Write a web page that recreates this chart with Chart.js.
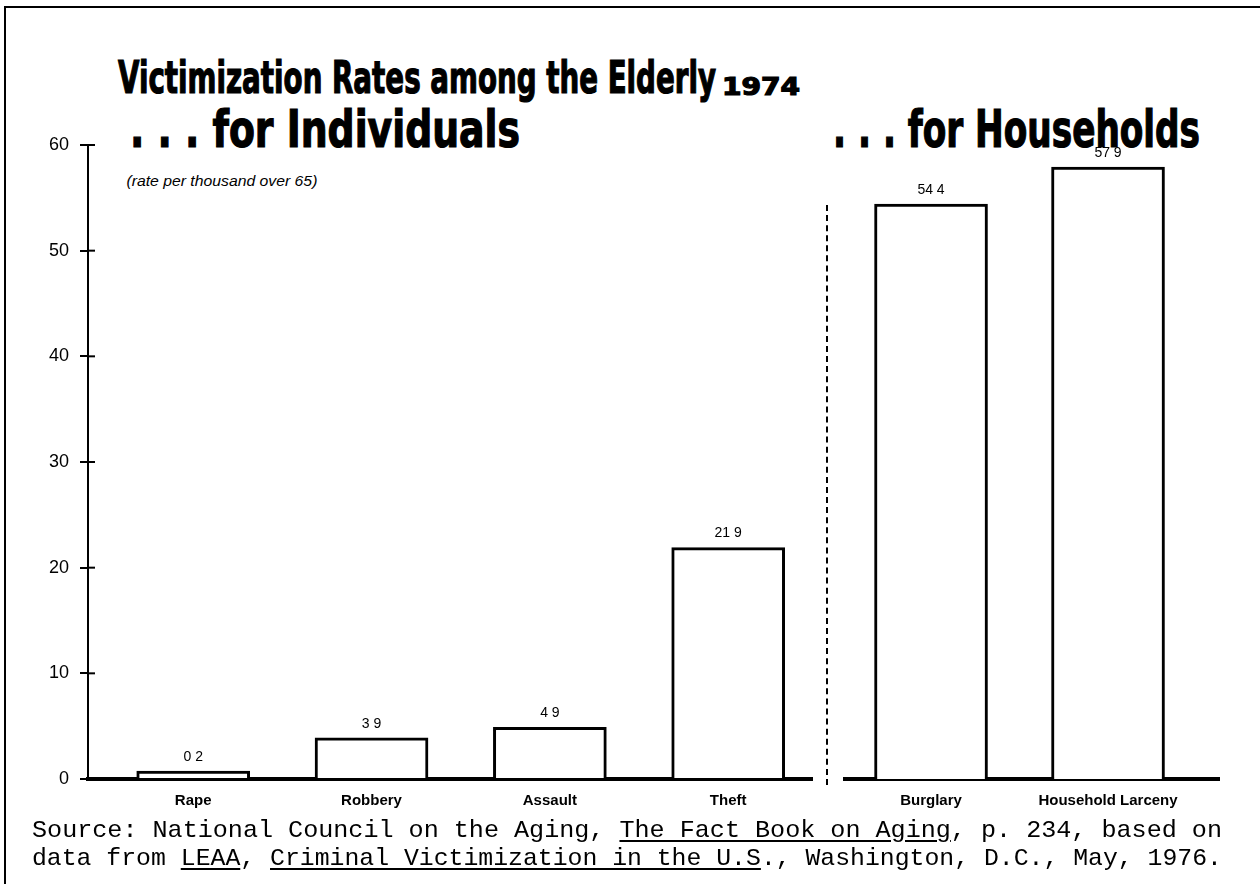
<!DOCTYPE html>
<html>
<head>
<meta charset="utf-8">
<script src="https://cdn.jsdelivr.net/npm/chart.js@4.4.1/dist/chart.umd.min.js"></script>
<style>
  body { margin: 0; background: #fff; width: 1260px; height: 884px; position: relative; overflow: hidden; font-family: "Liberation Sans", Arial, sans-serif; }
  .abs { position: absolute; white-space: nowrap; color: #000; line-height: 1; }
  .frame { position: absolute; left: 4px; top: 6px; width: 1300px; height: 900px; border-left: 2px solid #000; border-top: 2px solid #000; }
  .head { font-family: "Liberation Sans Narrow", "DejaVu Sans Condensed", sans-serif; font-weight: bold; transform-origin: 0 0; -webkit-text-stroke: 1.2px #000; }
  .src { font-family: "Liberation Mono", "DejaVu Sans Mono", monospace; font-size: 24.8px; transform-origin: 0 0; }
  .src u { text-underline-offset: 3px; }
  #divider { position: absolute; left: 826px; top: 205px; height: 580px; border-left: 2px dashed #000; }
  canvas { position: absolute; top: 0; }
</style>
</head>
<body>
<div class="frame"></div>

<div class="abs head" style="left:118px; top:56px; font-size:44px;" data-w="598">Victimization Rates among the Elderly</div>
<div class="abs head" style="left:722px; top:74px; font-size:25px;" data-w="78">1974</div>
<div class="abs head" style="left:130px; top:104px; font-size:51px;" data-w="390">. . . for Individuals</div>
<div class="abs head" style="left:833px; top:104px; font-size:51px;" data-w="367">. . . for Households</div>
<div class="abs" style="left:131px; top:173px; font-size:15px; font-style:italic;" data-w="191">(rate per thousand over 65)</div>

<div id="divider"></div>

<canvas id="individuals" width="820" height="884" style="left:0px;"></canvas>
<canvas id="households" width="440" height="884" style="left:820px;"></canvas>

<div class="abs src" style="left:32px; top:818px;" data-w="1190">Source:  National Council on the Aging, <u>The Fact Book on Aging</u>, p. 234, based on</div>
<div class="abs src" style="left:32px; top:846px;" data-w="1190">data from <u>LEAA</u>, <u>Criminal Victimization in the U.S</u>., Washington, D.C., May, 1976.</div>

<script>
// rates per thousand persons over 65, 1974
var individualCrimes = ['Rape', 'Robbery', 'Assault', 'Theft'];
var individualRates = [0.2, 3.9, 4.9, 21.9];

var householdCrimes = ['Burglary', 'Household Larceny'];
var householdRates = [54.4, 57.9];

var yTicks = [0, 10, 20, 30, 40, 50, 60];

var valueLabels = {
    id: 'valueLabels',
    afterDatasetsDraw: function(chart) {
        var ctx = chart.ctx;
        var meta = chart.getDatasetMeta(0);
        ctx.save();
        ctx.font = '14px "Liberation Sans", Arial, sans-serif';
        ctx.fillStyle = '#000';
        ctx.textAlign = 'center';
        ctx.textBaseline = 'bottom';
        meta.data.forEach(function(bar, i) {
            var v = chart.data.datasets[0].data[i].y;
            // the print shows the decimal point as a gap
            ctx.fillText(v.toFixed(1).replace('.', ' '), bar.x, bar.y - 7);
        });
        ctx.restore();
    }
};

// small tick stubs on the inner side of the y axis
var innerTicks = {
    id: 'innerTicks',
    afterDraw: function(chart) {
        var y = chart.scales.y;
        if (!y.options.display) return;
        var ctx = chart.ctx;
        ctx.save();
        ctx.strokeStyle = '#000';
        ctx.lineWidth = 2;
        y.ticks.forEach(function(t) {
            var py = y.getPixelForValue(t.value);
            ctx.beginPath();
            ctx.moveTo(y.right, py);
            ctx.lineTo(y.right + 7, py);
            ctx.stroke();
        });
        ctx.restore();
    }
};

function buildPanel(elementId, names, rates, xMin, xMax, showY, pad) {
    var canvas = document.getElementById(elementId);
    var data = {
        datasets: [{
            data: rates.map(function(v, i) { return { x: i, y: v }; }),
            backgroundColor: '#fff',
            borderColor: '#000',
            borderWidth: 3,
            barThickness: 113,
            minBarLength: 8
        }]
    };
    var config = {
        type: 'bar',
        data: data,
        plugins: [valueLabels, innerTicks],
        options: {
            responsive: false,
            animation: false,
            events: [],
            layout: { padding: pad },
            plugins: {
                legend: { display: false },
                tooltip: { enabled: false }
            },
            scales: {
                x: {
                    type: 'linear',
                    min: xMin,
                    max: xMax,
                    offset: false,
                    z: 1,
                    grid: { display: false, drawTicks: false },
                    border: { color: '#000', width: 4 },
                    afterFit: function(scale) { scale.height = 30; },
                    afterBuildTicks: function(scale) {
                        scale.ticks = names.map(function(n, i) { return { value: i }; });
                    },
                    ticks: {
                        autoSkip: false,
                        maxRotation: 0,
                        padding: 13,
                        color: '#000',
                        font: { family: '"Liberation Sans Narrow", "Liberation Sans", sans-serif', size: 15, weight: 'bold' },
                        callback: function(value) { return names[value]; }
                    }
                },
                y: {
                    display: showY,
                    min: 0,
                    max: 60,
                    afterFit: function(scale) { scale.width = showY ? 88 : 0; },
                    afterBuildTicks: function(scale) {
                        scale.ticks = yTicks.map(function(v) { return { value: v }; });
                    },
                    grid: { display: true, drawOnChartArea: false, tickLength: 8, color: '#000', lineWidth: 2 },
                    border: { color: '#000', width: 2 },
                    ticks: {
                        padding: 11,
                        color: '#000',
                        font: { family: '"Liberation Sans", Arial, sans-serif', size: 18 }
                    }
                }
            }
        }
    };
    return new Chart(canvas, config);
}

buildPanel('individuals', individualCrimes, individualRates, -0.59, 3.47, true,
    { top: 145, bottom: 75, left: 0, right: 8 });
buildPanel('households', householdCrimes, householdRates, -0.486, 1.627, false,
    { top: 145, bottom: 75, left: 25, right: 41 });

// squeeze the headings and source lines to the printed widths
document.querySelectorAll('[data-w]').forEach(function(el) {
    var w = el.getBoundingClientRect().width;
    el.style.transform = 'scaleX(' + (el.dataset.w / w) + ')';
});
</script>
</body>
</html>
